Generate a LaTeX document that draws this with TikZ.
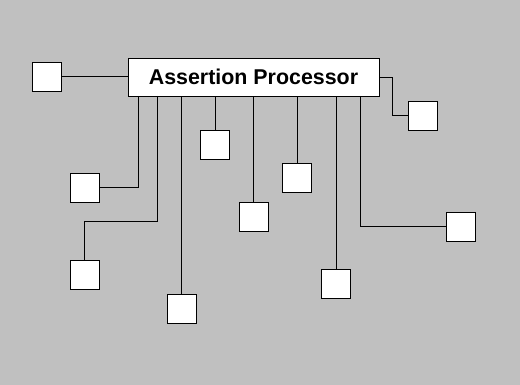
\documentclass[tikz,border=0pt]{standalone}
\usepackage{fontspec}
\setmainfont{Liberation Sans}
\usepackage{tikz}

\definecolor{panelgray}{HTML}{C0C0C0}

\begin{document}
\begin{tikzpicture}[x=1pt, y=-1pt, line width=0.8pt,
	unit/.style={draw, fill=white, minimum size=29pt, inner sep=0pt},
	procbox/.style={draw, fill=white, minimum width=251pt, minimum height=38pt,
		inner sep=0pt, font=\fontsize{21.4}{24}\selectfont\bfseries}]


	% background
	\fill[panelgray] (0,0) rectangle (520,385);
	\useasboundingbox (0,0) rectangle (520,385);

	\node[procbox] (proc) at (253.5,77) {Assertion Processor};

	% small units
	\foreach \name/\x/\y in {b0/46.5/76.7, b1/84.7/187.7, b2/84.7/274.7,
		b3/181.5/308.5, b4/215/144.5, b5/253.7/216.7, b6/297/178,
		b7/336/284, b8/461.3/226.5, b9/422.5/115.5} {
		\node[unit] (\name) at (\x,\y) {};
	}

	% taps on the lower side of the processor
	\coordinate (t1) at (138,96);
	\coordinate (t2) at (157,96);
	\coordinate (t8) at (360,96);



	\draw (b0) -- (b0 -| proc.west);
	\draw (proc.east) -- ++(13,0) |- (b9);

	\draw (t1) |- (b1);
	\draw (t2) -- ++(0,125) -| (b2);
	\draw (t8) |- (b8);

	\foreach \name in {b3,b4,b5,b6,b7} {
		\draw (proc.south -| \name) -- (\name);
	}



\end{tikzpicture}
\end{document}
